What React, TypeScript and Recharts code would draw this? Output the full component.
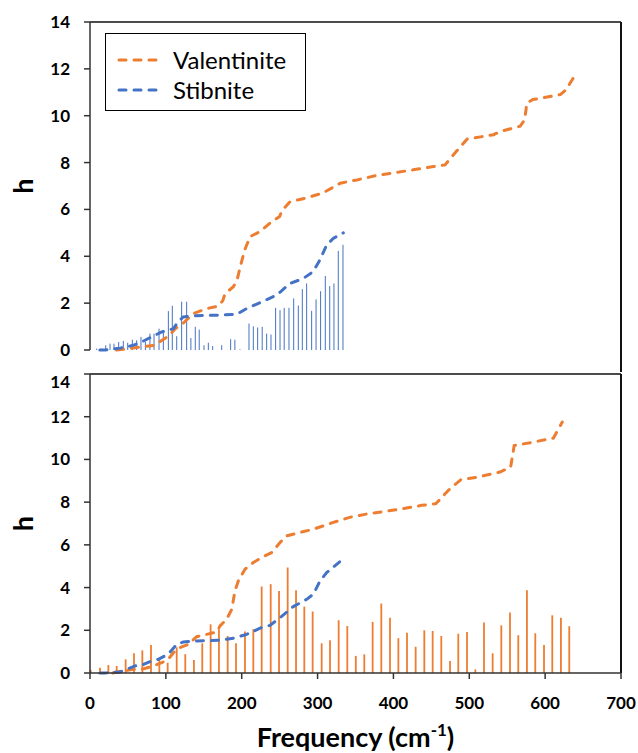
import React from 'react';
import {
  ComposedChart,
  Line,
  Scatter,
  ErrorBar,
  XAxis,
  YAxis,
  Legend,
  ReferenceLine,
} from 'recharts';

const ORANGE = '#ED7D31';
const BLUE = '#4472C4';
const AXIS = '#333333';
const FONT = 'Lato, "Open Sans", sans-serif';

// cumulative h curves, top panel
const valTopX = [35, 50, 65, 85, 92, 105, 112, 123, 136, 154, 169, 175, 178, 189, 194, 198, 204, 211, 224, 237, 250, 253, 264, 284, 307, 330, 352, 378, 404, 426, 453, 468, 483, 497, 532, 541, 567, 573, 576, 584, 620, 628, 633, 642];
const valTopY = [0, 0.05, 0.12, 0.2, 0.35, 0.63, 0.9, 1.15, 1.55, 1.77, 1.87, 2.1, 2.4, 2.7, 3.0, 3.55, 4.27, 4.84, 5.05, 5.41, 5.7, 5.95, 6.34, 6.48, 6.7, 7.12, 7.26, 7.45, 7.58, 7.69, 7.83, 7.9, 8.48, 9.0, 9.19, 9.33, 9.55, 9.83, 10.55, 10.69, 10.9, 11.12, 11.4, 11.86];
const stibTopX = [13, 20, 40, 57, 68, 81, 94.5, 110, 116, 123, 136, 171, 193, 206.5, 226, 246, 263.6, 281, 294, 303, 312, 321, 334];
const stibTopY = [0, 0, 0.08, 0.2, 0.34, 0.56, 0.77, 0.91, 1.2, 1.41, 1.46, 1.49, 1.52, 1.77, 2.05, 2.34, 2.84, 3.05, 3.34, 3.84, 4.48, 4.77, 5.0];

// cumulative h curves, bottom panel
const valBotX = [30, 35, 46, 57, 68, 83.5, 94.5, 103, 110, 118.6, 129.6, 140.6, 153.8, 167, 171.4, 180.2, 186.8, 191.1, 195.5, 204.3, 215.3, 226.3, 239.5, 250.5, 259.3, 276.8, 294.3, 320.7, 343.4, 367, 390, 413.8, 437.3, 456, 474.6, 488.8, 512, 540.5, 554.5, 559.2, 582.6, 610.9, 622.6];
const valBotY = [0, 0.05, 0.1, 0.17, 0.17, 0.33, 0.48, 0.64, 0.95, 1.19, 1.34, 1.7, 1.81, 1.92, 2.2, 2.52, 2.98, 3.84, 4.31, 4.86, 5.17, 5.41, 5.64, 6.11, 6.42, 6.58, 6.73, 7.05, 7.3, 7.46, 7.57, 7.7, 7.85, 7.93, 8.63, 9.05, 9.18, 9.41, 9.64, 10.65, 10.8, 11.0, 11.75];
const stibBotX = [13, 20, 39.5, 59.3, 70.3, 81.3, 90, 103.2, 114.3, 123, 140.6, 171.4, 189, 206.6, 226.3, 237.3, 250.5, 268, 285.7, 294.5, 303.2, 312, 330.5];
const stibBotY = [0, 0, 0.05, 0.33, 0.4, 0.56, 0.64, 0.88, 1.34, 1.45, 1.5, 1.53, 1.63, 1.81, 2.13, 2.23, 2.59, 3.11, 3.45, 3.69, 4.31, 4.7, 5.25];

// stick spectra
const stibLineX = [8.8, 14.5, 20.7, 26.4, 31.6, 37.8, 43.9, 49.7, 55.8, 61.5, 67.2, 73, 79, 84.4, 91, 96.7, 103.3, 108.5, 114.3, 120.8, 127.4, 133, 138.8, 144, 150.3, 156, 161.7, 173.6, 185.4, 191, 197.7, 209.6, 215.3, 221, 227, 232.9, 238.6, 244.7, 250.5, 256, 262.3, 268.5, 274.6, 279.9, 285.6, 292.2, 298, 304, 310.2, 316, 321.6, 327.3, 333.5];
const stibLineH = [0.06, 0.06, 0.2, 0.27, 0.27, 0.34, 0.39, 0.31, 0.44, 0.41, 0.56, 0.34, 0.7, 0.7, 0.91, 0.77, 1.66, 1.89, 0.59, 2.06, 2.06, 0.51, 0.99, 0.87, 0.2, 0.31, 0.17, 0.2, 0.46, 0.44, 0.03, 1.13, 1.01, 0.96, 0.99, 0.7, 0.66, 1.8, 1.7, 1.8, 1.8, 2.2, 1.9, 2.6, 2.84, 1.67, 2.16, 2.51, 3.16, 2.73, 2.84, 4.23, 4.49];
const valLineX = [0.9, 13.2, 24.2, 35.2, 47, 58, 69, 80.4, 91.4, 102.4, 114.3, 125.6, 137, 148, 159, 170, 181.5, 192.5, 204.3, 215.3, 226.3, 238.2, 249.2, 260.6, 271.6, 282.5, 293.5, 305.4, 316.4, 327.8, 339.2, 350.4, 361.6, 372.6, 384, 395.5, 406.5, 417.9, 429.3, 440.7, 451.7, 463.1, 474.6, 485.5, 497, 508, 519.4, 530.8, 542.2, 553.7, 564.6, 576, 587, 598.5, 609.4, 620.8, 631.8];
const valLineH = [0.14, 0.25, 0.37, 0.33, 0.64, 0.92, 1.06, 1.31, 0.67, 0.48, 1.2, 0.88, 0.61, 1.39, 2.28, 2.05, 1.73, 1.39, 1.94, 2.05, 4.05, 4.16, 3.84, 4.94, 3.88, 3.11, 2.88, 1.39, 1.53, 2.47, 2.2, 0.8, 0.875, 2.39, 3.25, 2.59, 1.63, 1.89, 1.23, 2.0, 1.97, 1.73, 0.56, 1.84, 1.92, 0.17, 2.36, 0.92, 2.23, 2.83, 1.77, 3.88, 1.86, 1.31, 2.7, 2.59, 2.19];

const seriesNames = ['Valentinite', 'Stibnite'];
const xTicks = [0, 100, 200, 300, 400, 500, 600, 700];
const yTicks = [0, 2, 4, 6, 8, 10, 12, 14];

const toPoints = (xs: number[], ys: number[]) => xs.map((x, i) => ({ x, y: ys[i] }));
// error bar from 0 up to the value draws the stick
const toSticks = (xs: number[], hs: number[]) =>
  xs.map((x, i) => ({ x, y: hs[i], err: [hs[i], 0] }));

const tickStyle = { fontFamily: FONT, fontWeight: 700, fontSize: 17, fill: '#000' };
const dash = { strokeWidth: 3, strokeDasharray: '7 8', strokeLinecap: 'round' as const };

const NoDot = () => <g />;

const HLabel = (props: any) => {
  const { viewBox } = props;
  const cx = viewBox.x + 22;
  const cy = viewBox.y + viewBox.height / 2;
  return (
    <text
      x={cx}
      y={cy}
      transform={`rotate(-90 ${cx} ${cy})`}
      textAnchor="middle"
      dominantBaseline="central"
      fontFamily={FONT}
      fontWeight={700}
      fontSize={27}
      fill="#000"
    >
      h
    </text>
  );
};

const FreqLabel = (props: any) => {
  const { viewBox } = props;
  const cx = viewBox.x + viewBox.width / 2;
  const cy = viewBox.y + 74;
  return (
    <text x={cx} y={cy} textAnchor="middle" fontFamily={FONT} fontWeight={700} fontSize={27} fill="#000">
      Frequency (cm
      <tspan dy={-11} fontSize={17}>-1</tspan>
      <tspan dy={11}>)</tspan>
    </text>
  );
};

const LegendBox = (props: any) => {
  const items = (props.payload || [])
    .filter((p: any) => seriesNames.includes(p.value))
    .sort((a: any, b: any) => seriesNames.indexOf(a.value) - seriesNames.indexOf(b.value));
  return (
    <div
      style={{
        border: '1.5px solid #000',
        width: 201,
        height: 78,
        boxSizing: 'border-box',
        background: '#fff',
        paddingTop: 11,
        paddingLeft: 11,
      }}
    >
      {items.map((p: any) => (
        <div key={p.value} style={{ display: 'flex', alignItems: 'center', height: 30 }}>
          <svg width={44} height={10}>
            <line x1={2} y1={5} x2={42} y2={5} stroke={p.color} {...dash} />
          </svg>
          <span style={{ marginLeft: 12, fontFamily: FONT, fontSize: 24, color: '#000', lineHeight: '30px' }}>
            {p.value}
          </span>
        </div>
      ))}
    </div>
  );
};

const App = () => {
  return (
    <div style={{ position: 'absolute', left: 0, top: 0, width: 638, height: 753, background: '#fff', overflow: 'hidden' }}>
      <ComposedChart width={638} height={372} margin={{ top: 22, right: 17, bottom: 22, left: 0 }}>
        <XAxis
          dataKey="x"
          type="number"
          domain={[0, 700]}
          ticks={xTicks}
          tick={false}
          tickLine={false}
          height={0}
          axisLine={{ stroke: AXIS, strokeWidth: 1.5 }}
        />
        <YAxis
          type="number"
          domain={[0, 14]}
          ticks={yTicks}
          width={90}
          tickSize={6}
          tickMargin={14}
          tick={tickStyle}
          tickLine={{ stroke: AXIS, strokeWidth: 1.5 }}
          axisLine={{ stroke: AXIS, strokeWidth: 1.5 }}
          label={<HLabel />}
        />
        <ReferenceLine y={14} stroke="#111" strokeWidth={1.5} />
        <ReferenceLine
          segment={[{ x: 700, y: 14 }, { x: 700, y: -0.95 }]}
          ifOverflow="visible"
          stroke="#111"
          strokeWidth={2}
        />
        <Scatter
          data={toSticks(stibLineX, stibLineH)}
          dataKey="y"
          shape={NoDot}
          legendType="none"
          isAnimationActive={false}
        >
          <ErrorBar dataKey="err" direction="y" width={0} stroke={BLUE} strokeWidth={1} isAnimationActive={false} />
        </Scatter>
        <Line
          data={toPoints(valTopX, valTopY)}
          dataKey="y"
          name="Valentinite"
          stroke={ORANGE}
          {...dash}
          dot={false}
          type="linear"
          isAnimationActive={false}
        />
        <Line
          data={toPoints(stibTopX, stibTopY)}
          dataKey="y"
          name="Stibnite"
          stroke={BLUE}
          {...dash}
          dot={false}
          type="linear"
          isAnimationActive={false}
        />
        <Legend
          layout="vertical"
          align="center"
          verticalAlign="middle"
          content={<LegendBox />}
          wrapperStyle={{ left: 105, top: 33, width: 201 }}
        />
      </ComposedChart>
      <ComposedChart width={638} height={381} margin={{ top: 2, right: 17, bottom: 0, left: 0 }}>
        <XAxis
          dataKey="x"
          type="number"
          domain={[0, 700]}
          ticks={xTicks}
          height={80}
          tickSize={6}
          tickMargin={18}
          tick={tickStyle}
          tickLine={{ stroke: AXIS, strokeWidth: 1.5 }}
          axisLine={{ stroke: AXIS, strokeWidth: 1.5 }}
          label={<FreqLabel />}
        />
        <YAxis
          type="number"
          domain={[0, 14]}
          ticks={yTicks}
          width={90}
          tickSize={6}
          tickMargin={14}
          tick={tickStyle}
          tickLine={{ stroke: AXIS, strokeWidth: 1.5 }}
          axisLine={{ stroke: AXIS, strokeWidth: 1.5 }}
          label={<HLabel />}
        />
        <ReferenceLine y={14} stroke="#111" strokeWidth={1.5} />
        <ReferenceLine x={700} stroke="#111" strokeWidth={2} />
        <Scatter
          data={toSticks(valLineX, valLineH)}
          dataKey="y"
          shape={NoDot}
          legendType="none"
          isAnimationActive={false}
        >
          <ErrorBar dataKey="err" direction="y" width={0} stroke={ORANGE} strokeWidth={1.8} isAnimationActive={false} />
        </Scatter>
        <Line
          data={toPoints(valBotX, valBotY)}
          dataKey="y"
          name="Valentinite"
          stroke={ORANGE}
          {...dash}
          dot={false}
          type="linear"
          isAnimationActive={false}
        />
        <Line
          data={toPoints(stibBotX, stibBotY)}
          dataKey="y"
          name="Stibnite"
          stroke={BLUE}
          {...dash}
          dot={false}
          type="linear"
          isAnimationActive={false}
        />
      </ComposedChart>
    </div>
  );
};

export default App;
